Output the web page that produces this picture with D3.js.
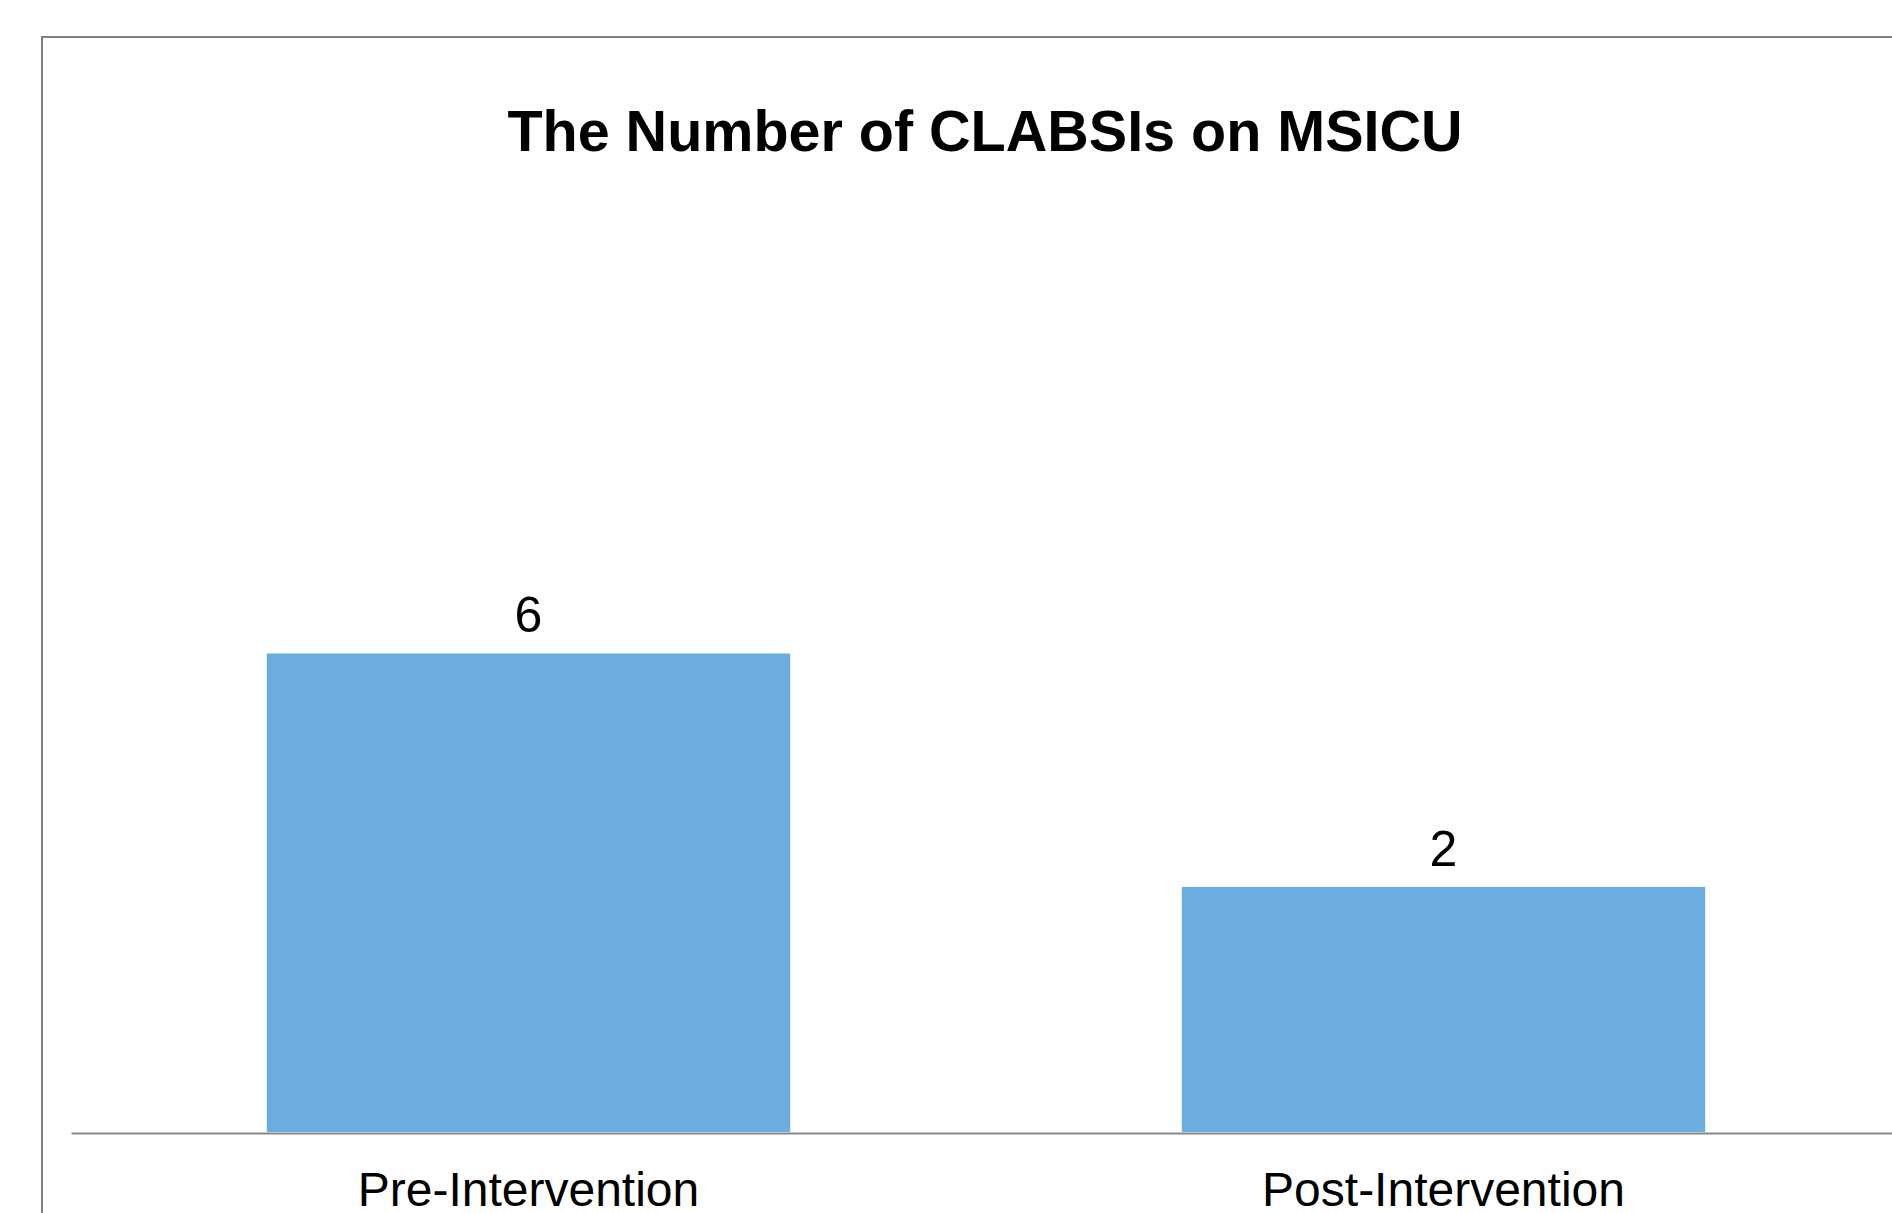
<!DOCTYPE html>
<html>
<head>
<meta charset="utf-8">
<script src="https://cdn.jsdelivr.net/npm/d3@7"></script>
<style>
  body { margin: 0; background: #fff; }
  svg { display: block; }
  text { font-family: "Liberation Sans", Arial, Helvetica, sans-serif; fill: #000; }
</style>
</head>
<body>
<div id="chart"></div>
<script>
// chart data
var categories = ["Pre-Intervention", "Post-Intervention"];
var clabsiCounts = [6, 2];
var chartTitle = "The Number of CLABSIs on MSICU";
// value axis is hidden; its minimum sits below zero in the original
var yAxisRange = [-2.2, 10];

var W = 1892, H = 1213;
var plot = {left: 71, right: 1901, top: 420, bottom: 1132};

var svg = d3.select("#chart").append("svg")
    .attr("width", W)
    .attr("height", H);

// outer chart frame (runs off the right and bottom of the picture)
svg.append("rect")
    .attr("x", 42)
    .attr("y", 37)
    .attr("width", 2000)
    .attr("height", 1300)
    .attr("fill", "none")
    .attr("stroke", "#808080")
    .attr("stroke-width", 2);

svg.append("text")
    .attr("x", 985)
    .attr("y", 151)
    .attr("text-anchor", "middle")
    .style("font-size", "57.5px")
    .style("font-weight", "bold")
    .text(chartTitle);

var x = d3.scaleBand()
    .domain(categories)
    .range([plot.left, plot.right])
    .paddingInner(0.428)
    .paddingOuter(0.214);

var y = d3.scaleLinear()
    .domain(yAxisRange)
    .range([plot.bottom, plot.top]);

var data = categories.map(function(c, i) { return {cat: c, val: clabsiCounts[i]}; });

svg.selectAll(".bar")
  .data(data)
  .enter().append("rect")
    .attr("class", "bar")
    .attr("x", function(d) { return x(d.cat); })
    .attr("width", x.bandwidth())
    .attr("y", function(d) { return y(d.val); })
    .attr("height", function(d) { return plot.bottom - y(d.val); })
    .attr("fill", "#6badde");

// value labels above bars
svg.selectAll(".label")
  .data(data)
  .enter().append("text")
    .attr("class", "label")
    .attr("x", function(d) { return x(d.cat) + x.bandwidth() / 2; })
    .attr("y", function(d) { return y(d.val) - 21; })
    .attr("text-anchor", "middle")
    .style("font-size", "50px")
    .text(function(d) { return d.val; });

// category axis (labels run off the bottom edge, as in the original)
var xAxis = svg.append("g")
    .attr("transform", "translate(0," + (plot.bottom + 1) + ")")
    .call(d3.axisBottom(x).tickSize(0).tickSizeOuter(0));

xAxis.select(".domain")
    .attr("stroke", "#888")
    .attr("stroke-width", 2);

xAxis.selectAll(".tick text")
    .attr("y", 73)
    .attr("dy", 0)
    .style("font-size", "48px")
    .style("font-family", "\"Liberation Sans\", Arial, Helvetica, sans-serif")
    .attr("fill", "#000");
</script>
</body>
</html>
